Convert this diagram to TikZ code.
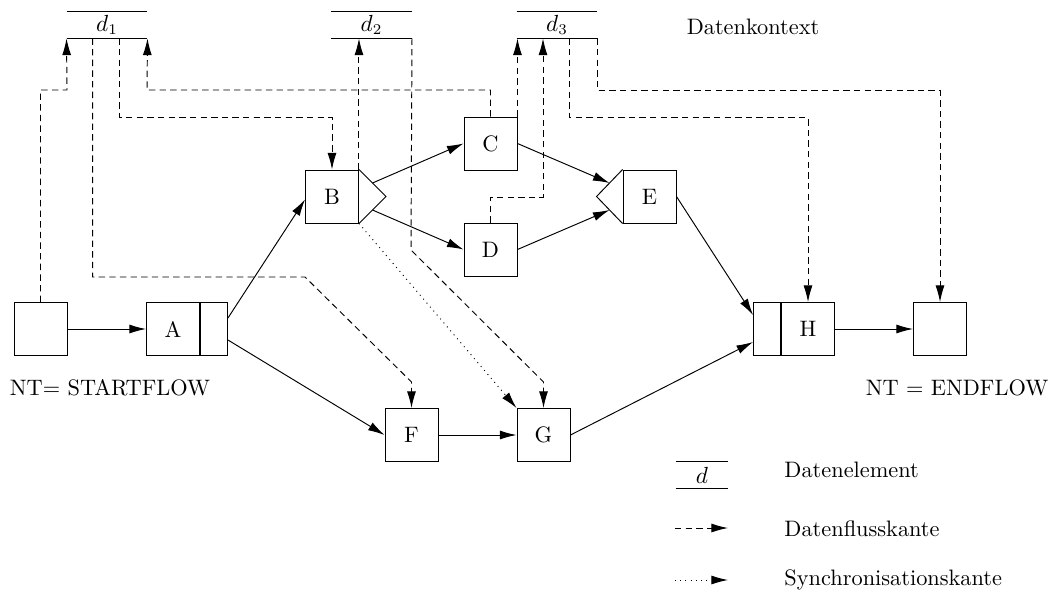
\documentclass[tikz,border=0pt]{standalone}
\usetikzlibrary{arrows.meta,calc}
\begin{document}
\begin{tikzpicture}[x=0.47pt,y=-0.47pt,
  every node/.style={font=\fontsize{10.5}{12.5}\selectfont},
  line width=0.45pt,
  box/.style={draw,rectangle,minimum width=24.9pt,minimum height=24.9pt,inner sep=0pt},
  cell/.style={draw,rectangle,minimum width=12.7pt,minimum height=24.9pt,inner sep=0pt},
  datael/.style={rectangle,minimum width=37.6pt,minimum height=12.2pt,inner sep=0pt},
  tip/.style={-{Latex[length=7.8pt,width=4.2pt]}},
  flow/.style={tip,dash pattern=on 3pt off 2pt},
  sync/.style={tip,dash pattern=on 0.45pt off 2pt},
  ctrl/.style={tip},
  lab/.style={anchor=base west,inner sep=0pt}
]
\useasboundingbox (0,0) rectangle (1052,592);

% process nodes
\node[box] (S) at (40.5,329) {};
\node[box] (A) at (173,329) {A};
\node[cell,anchor=west] (Ax) at (A.east) {};
\node[box] (B) at (332,196.5) {B};
\node[box] (C) at (490.5,143.5) {C};
\node[box] (D) at (490.5,249.5) {D};
\node[box] (E) at (649.5,196.5) {E};
\node[box] (F) at (411.5,435) {F};
\node[box] (G) at (543.5,435) {G};
\node[box] (H) at (808,329) {H};
\node[cell,anchor=east] (Hx) at (H.west) {};
\node[box] (End) at (940,329) {};

% split / join triangles
\coordinate (Bt) at ($(B.east)+(27,0)$);
\draw (B.north east) -- (Bt) -- (B.south east);
\coordinate (Et) at ($(E.west)+(-26,0)$);
\draw (E.north west) -- (Et) -- (E.south west);

% data elements
\node[datael] (d1) at (107,25) {$d_1$};
\node[datael] (d2) at (371.5,25) {$d_2$};
\node[datael] (d3) at (557,25) {$d_3$};
\foreach \d in {d1,d2,d3} {
  \draw (\d.north west) -- (\d.north east);
  \draw (\d.south west) -- (\d.south east);
}
\node (ctx) at (753,27) {Datenkontext};

% control flow
\draw[ctrl] (S.east) -- (A.west);
\draw[ctrl] ($(Ax.east)+(0,-11)$) -- ($(B.west)+(0,3)$);
\draw[ctrl] ($(Ax.east)+(0,11)$) -- (F.west);
\draw[ctrl] ($(B.north east)!0.5!(Bt)$) -- (C.west);
\draw[ctrl] ($(B.south east)!0.5!(Bt)$) -- (D.west);
\draw[ctrl] (C.east) -- ($(E.north west)!0.5!(Et)$);
\draw[ctrl] (D.east) -- ($(E.south west)!0.5!(Et)$);
\draw[ctrl] (E.east) -- ($(Hx.west)+(0,-14)$);
\draw[ctrl] (G.east) -- ($(Hx.west)+(0,13)$);
\draw[ctrl] (F.east) -- (G.west);
\draw[ctrl] (H.east) -- (End.west);

% data flow
\draw[flow] (S.north) |- (67,90) -- (d1.south west);
\draw[flow] ($(d1.south west)+(26,0)$) |- (305,277) -- (411.5,382) -- (F.north);
\draw[flow] ($(d1.south west)+(53,0)$) |- (332,117) -- (B.north);
\draw[flow] (C.north) |- (147,90) -- (d1.south east);
\draw[flow] (B.north east) -- (B.north east |- d2.south);
\draw[flow] (d2.south east) -- (411,250) -- (543.5,382) -- (G.north);
\draw[flow] (C.north east) -- (C.north east |- d3.south);
\coordinate (k8) at (543,197);
\draw[flow] (D.north) |- (k8) -- (k8 |- d3.south);
\draw[flow] ($(d3.south west)+(53,0)$) -- ++(0,79) -| (H.north);
\draw[flow] (d3.south east) -- ++(0,52) -| (End.north);

% synchronisation
\draw[sync] (B.south east) -- (G.north west);

% start / end labels
\node (nts) at (110,387.5) {NT= STARTFLOW};
\node (nte) at (957,387.5) {NT = ENDFLOW};

% legend
\node[datael,minimum width=24.4pt] (ld) at (702,475) {$d$};
\draw (ld.north west) -- (ld.north east);
\draw (ld.south west) -- (ld.south east);
\node[lab] (lt1) at (784,477) {Datenelement};
\coordinate (l1a) at (675,528);
\coordinate (l1b) at (728,528);
\draw[flow] (l1a) -- (l1b);
\node[lab] (lt2) at (784,536) {Datenflusskante};
\coordinate (l2a) at (675,580);
\coordinate (l2b) at (728,580);
\draw[sync] (l2a) -- (l2b);
\node[lab] (lt3) at (784,585) {Synchronisationskante};
\end{tikzpicture}
\end{document}
